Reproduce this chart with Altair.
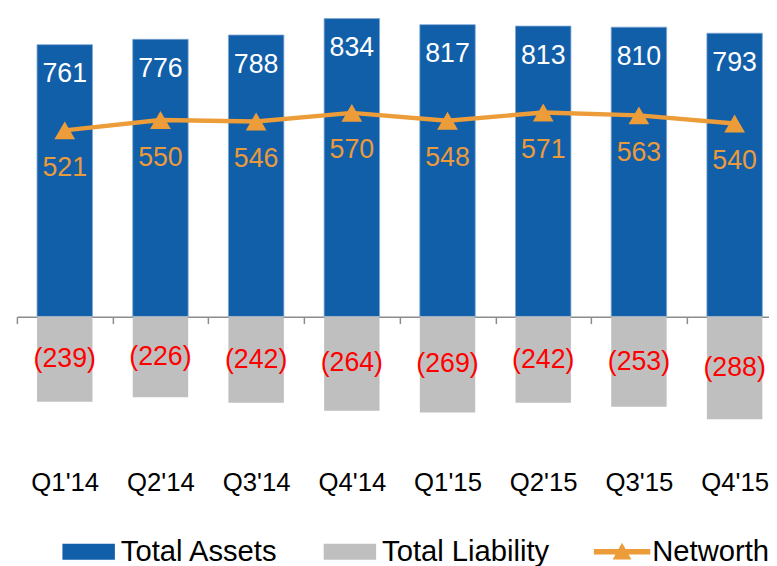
import altair as alt
import pandas as pd

quarters = ["Q1'14", "Q2'14", "Q3'14", "Q4'14", "Q1'15", "Q2'15", "Q3'15", "Q4'15"]
total_assets = [761, 776, 788, 834, 817, 813, 810, 793]
total_liability = [239, 226, 242, 264, 269, 242, 253, 288]
networth = [521, 550, 546, 570, 548, 571, 563, 540]

BLUE = "#115EA9"
GREY = "#BFBFBF"
ORANGE = "#EC9D3A"
RED = "#FF0000"
FONT = "Liberation Sans"

df = pd.DataFrame({
    "q": quarters,
    "assets": total_assets,
    "liab": [-v for v in total_liability],
    "liab_mid": [-v / 2 for v in total_liability],
    "liab_label": ["(" + str(v) + ")" for v in total_liability],
    "net": networth,
    "s_assets": ["Total Assets"] * len(quarters),
    "s_liab": ["Total Liability"] * len(quarters),
    "s_net": ["Networth"] * len(quarters),
})

x = alt.X(
    "q:N", sort=quarters,
    scale=alt.Scale(range=[0, 773.6], paddingInner=0, paddingOuter=0),
    axis=alt.Axis(title=None, labelAngle=0, labelFont=FONT, labelFontSize=26,
                  labelColor="black", domainColor="#8C8C8C", domainWidth=1.5,
                  tickColor="#8C8C8C", tickWidth=1.5, tickSize=7, tickBand="extent",
                  offset=-108, labelPadding=148),
)
yscale = alt.Scale(domain=[-300, 850], nice=False, zero=False)

RECT_PATH = "M-1,-0.302H1V0.302H-1Z"
NET_PATH = "M-1,-0.096H1V0.096H-1Z M0,-0.316L0.333,0.28L-0.333,0.28Z"


def make_legend(path, size, lx, ly, offset):
    return alt.Legend(title=None, orient="none", legendX=lx, legendY=ly,
                      symbolType=path, symbolSize=size, symbolStrokeWidth=0,
                      symbolOpacity=1, labelFont=FONT, labelFontSize=29.5,
                      labelColor="black", labelOffset=offset, padding=0,
                      labelLimit=400)


base = alt.Chart(df)

assets_bar = base.mark_bar(size=56, stroke="#7FA6D3", strokeWidth=0.8).encode(
    x=x,
    y=alt.Y("assets:Q", scale=yscale, axis=None),
    color=alt.Color("s_assets:N", scale=alt.Scale(domain=["Total Assets"], range=[BLUE]),
                    legend=make_legend(RECT_PATH, 2809, 46, 518, 6)),
)

liab_bar = base.mark_bar(size=56).encode(
    x=x,
    y=alt.Y("liab:Q", scale=yscale, axis=None),
    color=alt.Color("s_liab:N", scale=alt.Scale(domain=["Total Liability"], range=[GREY]),
                    legend=make_legend(RECT_PATH, 2809, 310, 518, 6)),
)

assets_text = base.mark_text(font=FONT, fontSize=27, color="white", dy=30,
                             baseline="middle").encode(
    x=x, y=alt.Y("assets:Q", scale=yscale, axis=None), text="assets:Q")

liab_text = base.mark_text(font=FONT, fontSize=27, color=RED,
                           baseline="middle").encode(
    x=x, y=alt.Y("liab_mid:Q", scale=yscale, axis=None), text="liab_label:N")

net_line = base.mark_line(color=ORANGE, strokeWidth=4.5).encode(
    x=x, y=alt.Y("net:Q", scale=yscale, axis=None))

net_points = base.mark_point(shape="triangle-up", filled=True, size=440, opacity=1).encode(
    x=x,
    y=alt.Y("net:Q", scale=yscale, axis=None),
    color=alt.Color("s_net:N", scale=alt.Scale(domain=["Networth"], range=[ORANGE]),
                    legend=make_legend(NET_PATH, 3249, 583, 516, 2)),
)

net_text = base.mark_text(font=FONT, fontSize=27, color="#E99A3C", dy=38,
                          baseline="middle").encode(
    x=x, y=alt.Y("net:Q", scale=yscale, axis=None), text="net:Q")

chart = alt.layer(
    assets_bar, liab_bar, assets_text, liab_text, net_line, net_points, net_text
).resolve_scale(color="independent").properties(
    width=760, height=415,
    background="white",
    autosize=alt.AutoSizeParams(type="none"),
    padding={"left": 9, "top": 2, "right": 0, "bottom": 141},
).configure_view(stroke="transparent", strokeWidth=0)

chart.save("out.html", embed_options={"renderer": "svg", "actions": False})
